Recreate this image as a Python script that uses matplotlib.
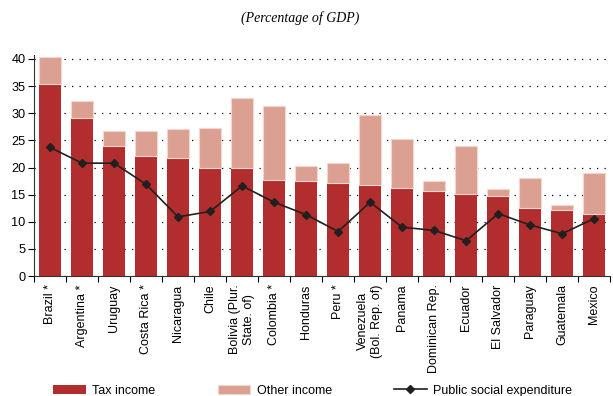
import matplotlib
matplotlib.use("Agg")
import matplotlib.pyplot as plt
import numpy as np

countries = ["Brazil *", "Argentina *", "Uruguay", "Costa Rica *", "Nicaragua", "Chile",
             "Bolivia (Plur.\nState. of)", "Colombia *", "Honduras", "Peru *",
             "Venezuela\n(Bol. Rep. of)", "Panama", "Dominican Rep.", "Ecuador",
             "El Salvador", "Paraguay", "Guatemala", "Mexico"]
tax_income = [35.4, 29.1, 24.0, 22.1, 21.8, 20.0, 20.0, 17.7, 17.5, 17.2,
              16.8, 16.2, 15.7, 15.1, 14.7, 12.5, 12.2, 11.5]
total_income = [40.4, 32.3, 26.7, 26.7, 27.1, 27.3, 32.8, 31.3, 20.3, 20.8,
                29.6, 25.2, 17.6, 23.9, 16.1, 18.1, 13.0, 18.9]
social_expenditure = [23.7, 20.8, 20.8, 16.9, 10.9, 11.9, 16.6, 13.6, 11.3, 8.2,
                      13.6, 9.0, 8.4, 6.5, 11.5, 9.4, 7.8, 10.6]
other_income = [t - x for t, x in zip(total_income, tax_income)]

plt.rcParams["font.family"] = ["Liberation Sans", "DejaVu Sans"]

fig = plt.figure(figsize=(6.13, 3.96), dpi=100)
ax = fig.add_axes([0.0555, 0.303, 0.94, 0.559])

x = np.arange(len(countries))
dark = "#B22D2E"
light = "#DBA091"
h_tax = ax.bar(x, tax_income, width=0.68, color=dark, edgecolor="none", zorder=2,
               label="Tax income")
h_other = ax.bar(x, other_income, bottom=tax_income, width=0.68, color=light,
                 edgecolor="#F3D6CE", linewidth=0.8, zorder=2, label="Other income")
h_line, = ax.plot(x, social_expenditure, color="#231F20", linewidth=1.2, marker="D",
                  markersize=4.5, zorder=3, label="Public social expenditure")

ax.set_xlim(-0.5, len(countries) - 0.5)
ax.set_ylim(0, 40.8)
ax.set_yticks(np.arange(0, 41, 5))
ax.yaxis.grid(True, linestyle=(0, (1, 5)), color="black", linewidth=0.9)
ax.set_axisbelow(True)

ax.set_xticks(x)
ax.set_xticklabels(countries, rotation=90, fontsize=9)
ax.set_xticks(np.arange(-0.5, len(countries), 1), minor=True)
ax.tick_params(axis="x", which="major", length=0, pad=6)
ax.tick_params(axis="x", which="minor", length=4, width=0.8, direction="out")
ax.tick_params(axis="y", labelsize=9.2, length=4, width=0.8, pad=2)

for side in ("top", "right"):
    ax.spines[side].set_visible(False)
for side in ("left", "bottom"):
    ax.spines[side].set_linewidth(0.8)
    ax.spines[side].set_color("#333333")

fig.text(0.49, 0.955, "(Percentage of GDP)", ha="center", va="center",
         fontsize=10, style="italic", family="Liberation Serif")

fig.legend([h_tax, h_other, h_line],
           ["Tax income", "Other income", "Public social expenditure"],
           loc="lower center", bbox_to_anchor=(0.51, -0.03),
           ncol=3, frameon=False, fontsize=9, handlelength=2.6,
           columnspacing=5.0, handletextpad=0.5)

fig.savefig("out.png", dpi=100)
